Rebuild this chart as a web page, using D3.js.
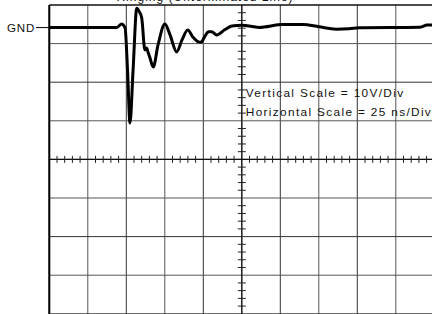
<!DOCTYPE html>
<html>
<head>
<meta charset="utf-8">
<script src="https://cdn.jsdelivr.net/npm/d3@7"></script>
<style>
  html, body { margin: 0; padding: 0; background: #fff; }
  svg { display: block; }
  text { font-family: "Liberation Sans", Arial, sans-serif; fill: #111; }
</style>
</head>
<body>
<div id="chart"></div>
<script>
// ---- data (time in ns, level in volts) ----
const timeNs = [0, 43.8, 47.0, 49.2, 50.8, 52.4, 54.4, 56.8, 57.9, 60.0, 62.1, 63.1, 64.3, 65.4, 67.5,
                70.6, 75.1, 78.4, 82.7, 86.2, 89.9, 93.3, 96.8, 98.5, 101.1, 103.3, 105.5, 108.7,
                114.1, 118.5, 125.1, 136.2, 151.6, 164.6, 175.1, 186.2, 194.6, 201.1, 240.7, 245.3, 250];
const volts  = [0, 0.05, 0.9, -0.1, -11.0, -24.7, -11.0, 5.0, 4.5, 2.5, -5.8, -5.3, -6.6, -7.9, -10.2,
                -4.5, 0.9, -1.9, -6.3, -3.2, -0.65, -2.5, -3.7, -3.8, -2.2, -1.1, -1.1, -1.9,
                -0.5, 0.4, 0.6, 0.05, 0.8, 0.8, 0.2, -0.4, -0.3, -0.05, 0.1, 0.65, 0.7];

const voltsPerDiv = 10;
const nsPerDiv = 25;
const hDivs = 10, vDivs = 8;
const gndLabel = "GND";
const titleText = "Ringing (Unterminated Line)";
const notes = ["Vertical Scale = 10V/Div", "Horizontal Scale = 25 ns/Div"];

// ---- layout ----
const width = 432, height = 314;
const plotLeft = 49.3, plotTop = 5, divW = 38.5, divH = 38.6;
const gndOffsetDiv = 0.585;   // GND sits just below the top line

const x = d3.scaleLinear().domain([0, hDivs * nsPerDiv]).range([plotLeft, plotLeft + hDivs * divW]);
const vTop = gndOffsetDiv * voltsPerDiv;
const y = d3.scaleLinear().domain([vTop, vTop - vDivs * voltsPerDiv]).range([plotTop, plotTop + vDivs * divH]);

const svg = d3.select("#chart").append("svg")
    .attr("width", width).attr("height", height)
    .attr("viewBox", `0 0 ${width} ${height}`);

// title, mostly above the frame as in the scan
svg.append("text")
    .attr("x", 205).attr("y", 1)
    .attr("text-anchor", "middle")
    .style("font-size", "12px")
    .style("letter-spacing", "1px")
    .text(titleText);

const grid = svg.append("g");

// vertical grid lines
d3.range(0, hDivs + 1).forEach(i => {
    grid.append("line")
        .attr("x1", x(i * nsPerDiv)).attr("x2", x(i * nsPerDiv))
        .attr("y1", plotTop).attr("y2", height)
        .attr("stroke", i % 2 ? "#555" : "#333").attr("stroke-width", 1);
});
// horizontal grid lines
d3.range(0, vDivs + 1).forEach(j => {
    const yy = plotTop + j * divH;
    grid.append("line")
        .attr("x1", plotLeft).attr("x2", width)
        .attr("y1", yy).attr("y2", yy)
        .attr("stroke", j % 2 ? "#555" : "#333").attr("stroke-width", 1);
});

// center axes with minor ticks
const cx = x(hDivs / 2 * nsPerDiv), cy = plotTop + vDivs / 2 * divH;
grid.append("line").attr("x1", plotLeft).attr("x2", width).attr("y1", cy).attr("y2", cy)
    .attr("stroke", "#111").attr("stroke-width", 1.2);
grid.append("line").attr("x1", cx).attr("x2", cx).attr("y1", plotTop).attr("y2", height)
    .attr("stroke", "#111").attr("stroke-width", 1.2);
d3.range(0, hDivs * 5 + 1).forEach(k => {
    if (k % 5 === 0) return;
    const xx = plotLeft + k * divW / 5;
    grid.append("line").attr("x1", xx).attr("x2", xx).attr("y1", cy - 3.5).attr("y2", cy + 3.5)
        .attr("stroke", "#222").attr("stroke-width", 1);
});
d3.range(0, vDivs * 5 + 1).forEach(k => {
    if (k % 5 === 0) return;
    const yy = plotTop + k * divH / 5;
    grid.append("line").attr("x1", cx - 4).attr("x2", cx + 4).attr("y1", yy).attr("y2", yy)
        .attr("stroke", "#222").attr("stroke-width", 1);
});

// frame: thick left edge, top edge
svg.append("line").attr("x1", plotLeft).attr("x2", plotLeft).attr("y1", plotTop).attr("y2", height)
    .attr("stroke", "#000").attr("stroke-width", 2);
svg.append("line").attr("x1", plotLeft).attr("x2", width).attr("y1", plotTop).attr("y2", plotTop)
    .attr("stroke", "#000").attr("stroke-width", 1.2);

// scale notes
notes.forEach((t, i) => {
    svg.append("text")
        .attr("x", cx + 4).attr("y", 96.5 + i * 19.5)
        .style("font-size", "11.8px")
        .style("letter-spacing", "1.35px")
        .text(t);
});

// GND marker
svg.append("text")
    .attr("x", 35).attr("y", y(0) + 4.2)
    .attr("text-anchor", "end")
    .style("font-size", "11.5px")
    .style("letter-spacing", "0.8px")
    .text(gndLabel);
svg.append("line").attr("x1", 36).attr("x2", plotLeft).attr("y1", y(0)).attr("y2", y(0))
    .attr("stroke", "#000").attr("stroke-width", 1);

// waveform
const pts = timeNs.map((t, i) => [t, volts[i]]);
svg.append("path")
    .datum(pts)
    .attr("fill", "none")
    .attr("stroke", "#000")
    .attr("stroke-width", 3)
    .attr("stroke-linejoin", "round")
    .attr("d", d3.line().x(d => x(d[0])).y(d => y(d[1])).curve(d3.curveMonotoneX));
</script>
</body>
</html>
